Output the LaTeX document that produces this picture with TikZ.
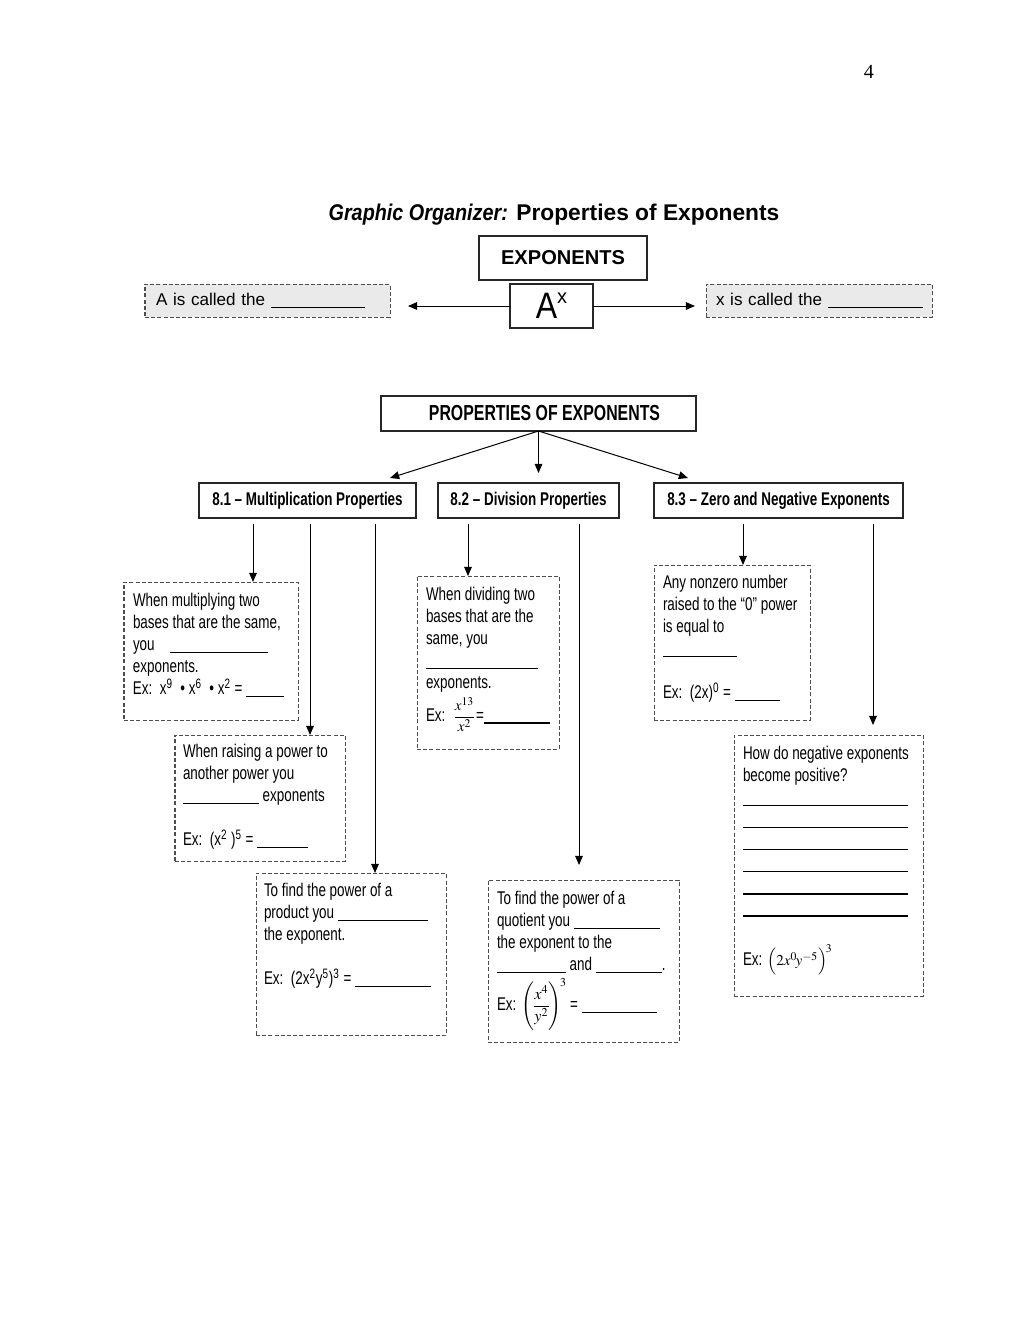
\documentclass[tikz,border=0pt]{standalone}
\usepackage{mathptmx}
\usepackage[no-math]{fontspec}
\setmainfont{Liberation Sans}
\newfontfamily\narrowfont[FakeStretch=0.73]{Liberation Sans}
\newfontfamily\semifont[FakeStretch=0.87]{Liberation Sans}
\newfontfamily\timesfont{Liberation Serif}
\usetikzlibrary{arrows.meta, positioning, calc}
\definecolor{notebg}{HTML}{EAEAEA}
\definecolor{dashgray}{HTML}{4D4D4D}
\newdimen\pxu \pxu=0.5977pt
\newcommand{\blank}[1]{\rule[-1.6pt]{#1\pxu}{0.75pt}}

\begin{document}
\begin{tikzpicture}[
    x=0.5977pt, y=-0.5977pt,
    every node/.style={inner sep=0pt, outer sep=0pt},
    sized/.style 2 args={minimum width=#1\pxu, minimum height=#2\pxu, anchor=north west},
    txt/.style={font=\narrowfont\fontsize{11}{13.2}\selectfont, align=left, anchor=north west},
    hdr/.style={draw=black!85, line width=0.7pt},
    sect/.style={hdr, font=\narrowfont\bfseries\fontsize{11}{13}\selectfont},
    note/.style={draw=dashgray, line width=0.6pt, dash pattern=on 2.4pt off 1.3pt},
    called/.style={note, fill=notebg, align=left, anchor=north west, minimum height=33\pxu,
                   font=\fontsize{10.2}{12}\selectfont},
    arr/.style={-{Triangle[length=5.5pt, width=4.6pt]}, line width=0.6pt}
]
    \useasboundingbox (0,0) rectangle (1024,1325);

    % page head
    \node[font=\timesfont\fontsize{12}{14}\selectfont] (pnum) at (869,72) {4};
    \node[font=\bfseries\fontsize{13.6}{16}\selectfont] (title) at (554,215)
        {{\semifont\itshape Graphic Organizer:} Properties of Exponents};

    % the power
    \node[hdr, sized={168}{44}, font=\bfseries\fontsize{12}{14}\selectfont] (expo) at (479,236) {EXPONENTS};
    \node[hdr, sized={83}{44}] (ax) at (510,284)
        {{\semifont\fontsize{22}{22}\selectfont A}\raisebox{9pt}{\fontsize{12}{12}\selectfont x}};
    \node[called, text width=223\pxu, inner xsep=11\pxu] (abox) at (145,284) {A is called the \blank{94}};
    \node[called, text width=210\pxu, inner xsep=8\pxu] (xbox) at (706,284) {\hspace{2\pxu}x is called the \blank{95}};
    \draw[arr, shorten >=18\pxu] (ax.west) -- (ax.west -| abox.east);
    \draw[arr, shorten >=11\pxu] (ax.east) -- (ax.east -| xbox.west);

    % properties
    \node[hdr, sized={315}{35}, font=\narrowfont\bfseries\fontsize{13}{15}\selectfont] (props) at (381,396)
        {\hspace{12\pxu}PROPERTIES OF EXPONENTS};
    \node[sect, sized={217}{35}] (sec1) at (199,483) {8.1 – Multiplication Properties};
    \node[sect, sized={181}{35}] (sec2) at (438,483) {8.2 – Division Properties};
    \node[sect, sized={249}{35}] (sec3) at (654,483) {8.3 – Zero and Negative Exponents};
    \draw[arr] (props.south) -- ($(sec1.north east)+(-26,-5)$);
    \draw[arr] (props.south) -- ($(props.south |- sec2.north)+(0,-10)$);
    \draw[arr] (props.south) -- ($(sec3.north west)+(34,-5)$);

    % dashed boxes
    \node[note, sized={174}{138}] (mult)  at (124,582) {};
    \node[note, sized={170}{126}] (raise) at (175,735) {};
    \node[note, sized={190}{162}] (prod)  at (256,873) {};
    \node[note, sized={142}{173}] (divi)  at (417,576) {};
    \node[note, sized={191}{162}] (quot)  at (488,880) {};
    \node[note, sized={156}{155}] (zero)  at (654,565) {};
    \node[note, sized={189}{261}] (nega)  at (734,735) {};

    \node[txt] (multtxt) at (133,593) {When multiplying two\\
        bases that are the same,\\
        you \ \ \ \blank{98}\\
        exponents.\\
        Ex:\ \ x\textsuperscript{9} \ • x\textsuperscript{6} \ • x\textsuperscript{2} = \blank{38}};
    \node[txt] (raisetxt) at (183,744) {When raising a power to\\
        another power you\\
        \blank{76} exponents\\[13.2pt]
        Ex:\ \ (x\textsuperscript{2} )\textsuperscript{5} = \blank{51}};
    \node[txt] (prodtxt) at (264,883) {To find the power of a\\
        product you \blank{90}\\
        the exponent.\\[13.2pt]
        Ex:\ \ (2x\textsuperscript{2}y\textsuperscript{5})\textsuperscript{3} = \blank{76}};
    \node[txt] (divitxt) at (426,587) {When dividing two\\
        bases that are the\\
        same, you\\
        \blank{112}\\
        exponents.\\[2pt]
        Ex:\ \ {\fontsize{9}{10}\selectfont$\displaystyle\frac{x^{13}}{x^{2}}$}=\blank{66}};
    \node[txt] (quottxt) at (497,891) {To find the power of a\\
        quotient you \blank{86}\\
        the exponent to the\\
        \blank{69} and \blank{66}.\\[2pt]
        Ex: {\fontsize{9.7}{11}\selectfont$\Biggl(\!\displaystyle\frac{x^{4}}{y^{2}}\!\Biggr)^{\!3}$}\,= \blank{75}};
    \node[txt] (zerotxt) at (663,575) {Any nonzero number\\
        raised to the “0” power\\
        is equal to\\
        \blank{74}\\[13.2pt]
        Ex:\ \ (2x)\textsuperscript{0} = \blank{45}};
    \node[txt] (negatxt) at (743,746) {How do negative exponents\\
        become positive?\\
        \blank{165}\\ \blank{165}\\ \blank{165}\\
        \blank{165}\\ \blank{165}\\ \blank{165}\\[16pt]
        Ex: {\fontsize{9}{10}\selectfont$\Bigl(2x^{0}\!y^{-5}\Bigr)^{\!3}$}};

    % connectors
    \draw[arr] ($(sec1.south west)+(54,6)$)  -- ($(mult.north west)+(129,0)$);
    \draw[arr] ($(sec1.south west)+(111,6)$) -- ($(raise.north west)+(135,0)$);
    \draw[arr] ($(sec1.south west)+(176,6)$) -- ($(prod.north west)+(119,0)$);
    \draw[arr] ($(sec2.south west)+(30,6)$)  -- ($(divi.north west)+(51,0)$);
    \draw[arr] ($(sec2.south west)+(141,6)$) -- ($(quot.north west)+(91,-15)$);
    \draw[arr] ($(sec3.south west)+(89,6)$)  -- ($(zero.north west)+(89,0)$);
    \draw[arr] ($(sec3.south west)+(219,6)$) -- ($(nega.north west)+(139,-10)$);
\end{tikzpicture}
\end{document}
